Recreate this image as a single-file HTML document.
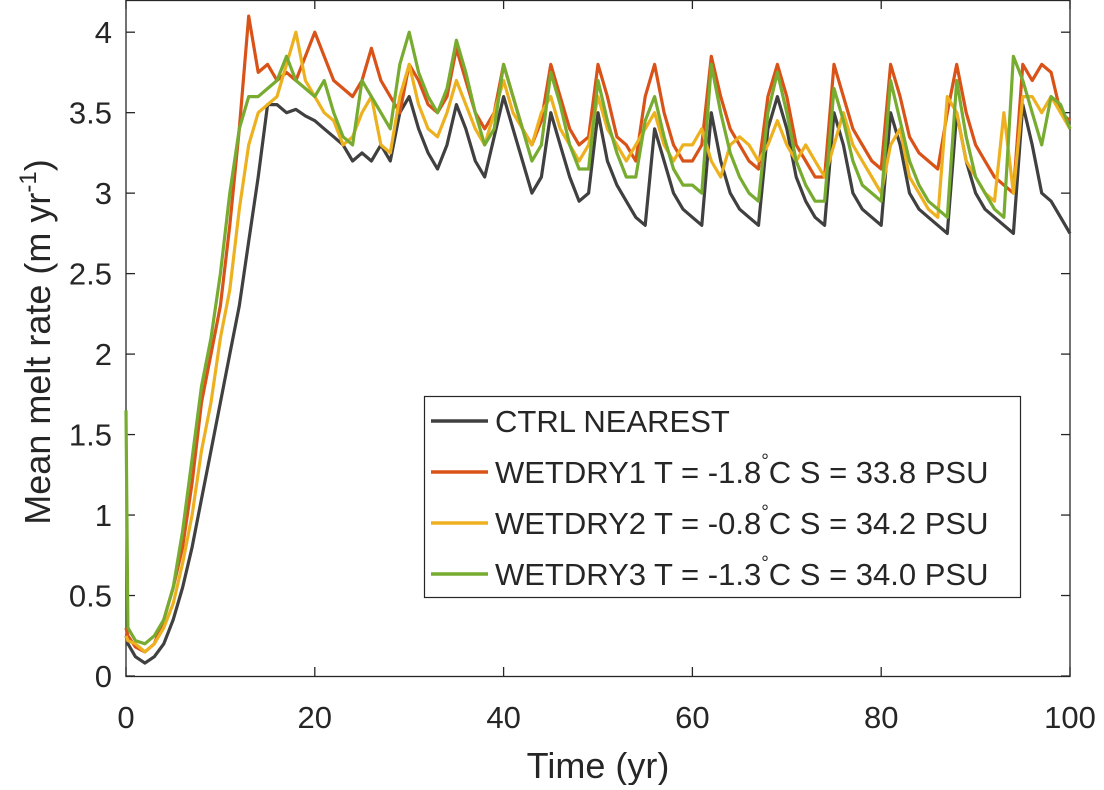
<!DOCTYPE html>
<html><head><meta charset="utf-8"><style>
body{margin:0;background:#fff;width:1104px;height:785px;overflow:hidden}
svg text{font-family:"Liberation Sans",Arial,sans-serif;fill:#262626}
</style></head><body>
<svg id="chart" width="1104" height="785" xmlns="http://www.w3.org/2000/svg">
<g id="axes"></g>
<g id="series"></g>
<text x="598" y="778" font-size="36" text-anchor="middle">Time (yr)</text>
<text transform="translate(50,342) rotate(-90)" font-size="36" text-anchor="middle">Mean melt rate (m yr<tspan font-size="24" dy="-14">-1</tspan><tspan dy="14">)</tspan></text>
<g>
<rect x="424.5" y="396.5" width="596" height="201" fill="#fff" stroke="#262626" stroke-width="1.2"/>
<line x1="431" y1="421" x2="488" y2="421" stroke="#404040" stroke-width="3.5"/>
<text x="495" y="432" font-size="31">CTRL NEAREST</text>
<line x1="431" y1="472" x2="488" y2="472" stroke="#D95319" stroke-width="3.5"/>
<text x="495" y="483" font-size="31">WETDRY1 T = -1.8<tspan font-size="19" dy="-16">°</tspan><tspan dy="16">C S = 33.8 PSU</tspan></text>
<line x1="431" y1="523" x2="488" y2="523" stroke="#EDB120" stroke-width="3.5"/>
<text x="495" y="534" font-size="31">WETDRY2 T = -0.8<tspan font-size="19" dy="-16">°</tspan><tspan dy="16">C S = 34.2 PSU</tspan></text>
<line x1="431" y1="574" x2="488" y2="574" stroke="#77AC30" stroke-width="3.5"/>
<text x="495" y="585" font-size="31">WETDRY3 T = -1.3<tspan font-size="19" dy="-16">°</tspan><tspan dy="16">C S = 34.0 PSU</tspan></text>
</g>
</svg>
<script>
const years=[0,0.2];for(let i=1;i<=100;i++)years.push(i);
const ctrl=[0.25,0.2,0.12,0.08,0.12,0.2,0.35,0.55,0.8,1.1,1.4,1.7,2.0,2.3,2.7,3.1,3.55,3.55,3.5,3.52,3.48,3.45,3.4,3.35,3.3,3.2,3.25,3.2,3.3,3.2,3.5,3.6,3.4,3.25,3.15,3.3,3.55,3.4,3.2,3.1,3.35,3.6,3.4,3.2,3.0,3.1,3.5,3.3,3.1,2.95,3.0,3.5,3.2,3.05,2.95,2.85,2.8,3.4,3.2,3.0,2.9,2.85,2.8,3.5,3.2,3.0,2.9,2.85,2.8,3.4,3.6,3.4,3.1,2.95,2.85,2.8,3.5,3.3,3.0,2.9,2.85,2.8,3.5,3.3,3.0,2.9,2.85,2.8,2.75,3.5,3.2,3.0,2.9,2.85,2.8,2.75,3.55,3.3,3.0,2.95,2.85,2.75];
const wetdry1=[0.3,0.25,0.18,0.15,0.2,0.35,0.55,0.8,1.2,1.7,2.0,2.3,2.8,3.4,4.1,3.75,3.8,3.7,3.75,3.7,3.85,4.0,3.85,3.7,3.65,3.6,3.7,3.9,3.7,3.6,3.5,3.8,3.7,3.55,3.5,3.6,3.9,3.7,3.5,3.4,3.5,3.8,3.6,3.4,3.3,3.45,3.8,3.6,3.4,3.3,3.35,3.8,3.6,3.35,3.3,3.2,3.6,3.8,3.5,3.3,3.2,3.2,3.3,3.85,3.6,3.4,3.3,3.2,3.15,3.6,3.8,3.6,3.3,3.2,3.1,3.1,3.8,3.6,3.4,3.3,3.2,3.15,3.8,3.6,3.35,3.25,3.2,3.15,3.5,3.8,3.5,3.3,3.2,3.1,3.05,3.0,3.8,3.7,3.8,3.75,3.5,3.45];
const wetdry2=[0.25,0.22,0.2,0.15,0.2,0.3,0.45,0.7,1.0,1.4,1.7,2.1,2.4,2.9,3.3,3.5,3.55,3.6,3.8,4.0,3.7,3.6,3.5,3.45,3.3,3.35,3.5,3.6,3.3,3.25,3.6,3.8,3.55,3.4,3.35,3.5,3.7,3.55,3.4,3.3,3.5,3.7,3.5,3.4,3.3,3.5,3.6,3.4,3.3,3.2,3.3,3.6,3.4,3.3,3.2,3.3,3.4,3.5,3.3,3.2,3.3,3.3,3.4,3.2,3.1,3.3,3.35,3.3,3.2,3.3,3.45,3.3,3.2,3.3,3.2,3.1,3.3,3.5,3.3,3.2,3.1,3.0,3.3,3.4,3.1,3.0,2.9,2.85,3.6,3.5,3.2,3.1,3.0,2.95,3.5,3.0,3.6,3.6,3.5,3.6,3.5,3.4];
const wetdry3=[1.65,0.3,0.22,0.2,0.25,0.35,0.55,0.9,1.35,1.8,2.1,2.5,3.0,3.4,3.6,3.6,3.65,3.7,3.85,3.7,3.65,3.6,3.7,3.5,3.35,3.3,3.7,3.6,3.5,3.4,3.8,4.0,3.75,3.6,3.5,3.65,3.95,3.75,3.5,3.3,3.4,3.8,3.6,3.4,3.2,3.3,3.75,3.55,3.3,3.15,3.15,3.7,3.45,3.25,3.1,3.1,3.45,3.6,3.35,3.15,3.05,3.05,3.0,3.8,3.5,3.25,3.1,3.0,2.95,3.5,3.75,3.5,3.2,3.05,2.95,2.95,3.65,3.45,3.2,3.05,3.0,2.95,3.7,3.45,3.2,3.05,2.95,2.9,2.85,3.7,3.35,3.1,3.0,2.9,2.85,3.85,3.7,3.5,3.3,3.6,3.55,3.4];
const xTicks=[0,20,40,60,80,100];
const yTicks=[0,0.5,1,1.5,2,2.5,3,3.5,4];
const yTickLabels=["0","0.5","1","1.5","2","2.5","3","3.5","4"];
const L=126,R=1070,T=0,B=676,YMAX=4.2;
const sx=v=>L+(v/100)*(R-L), sy=v=>B-(v/YMAX)*(B-T);
const NS="http://www.w3.org/2000/svg";
const ax=document.getElementById('axes'), sg=document.getElementById('series');
function mk(tag,attrs,parent){const e=document.createElementNS(NS,tag);for(const k in attrs)e.setAttribute(k,attrs[k]);parent.appendChild(e);return e;}
const frame=mk('rect',{x:L,y:T+0.5,width:R-L,height:B-T,fill:'none',stroke:'#262626','stroke-width':1.3},ax);


xTicks.forEach(v=>{
  const x=sx(v);
  const t1=mk('line',{x1:x,y1:B,x2:x,y2:B-9,stroke:'#262626','stroke-width':1.3},ax);
  
  
  const t2=mk('line',{x1:x,y1:T,x2:x,y2:T+9,stroke:'#262626','stroke-width':1.3},ax);
  
  
  const tx=mk('text',{x:x,y:B+52,'font-size':31,'text-anchor':'middle'},ax);
  tx.textContent=String(v);
  
  
});
yTicks.forEach((v,i)=>{
  const y=sy(v);
  const t1=mk('line',{x1:L,y1:y,x2:L+9,y2:y,stroke:'#262626','stroke-width':1.3},ax);
  
  
  const t2=mk('line',{x1:R,y1:y,x2:R-9,y2:y,stroke:'#262626','stroke-width':1.3},ax);
  
  
  const tx=mk('text',{x:L-14,y:y+11,'font-size':31,'text-anchor':'end'},ax);
  tx.textContent=yTickLabels[i];
  
  
});
const series=[['ctrl-nearest-line',ctrl,'#404040'],['wetdry1-line',wetdry1,'#D95319'],['wetdry2-line',wetdry2,'#EDB120'],['wetdry3-line',wetdry3,'#77AC30']];
series.forEach(s=>{
  const d=s[1].map((v,i)=>(i?'L':'M')+sx(years[i]).toFixed(1)+','+sy(v).toFixed(1)).join('');
  const p=mk('path',{d:d,fill:'none',stroke:s[2],'stroke-width':3.2,'stroke-linejoin':'round'},sg);
  
  
});
</script>
</body></html>
